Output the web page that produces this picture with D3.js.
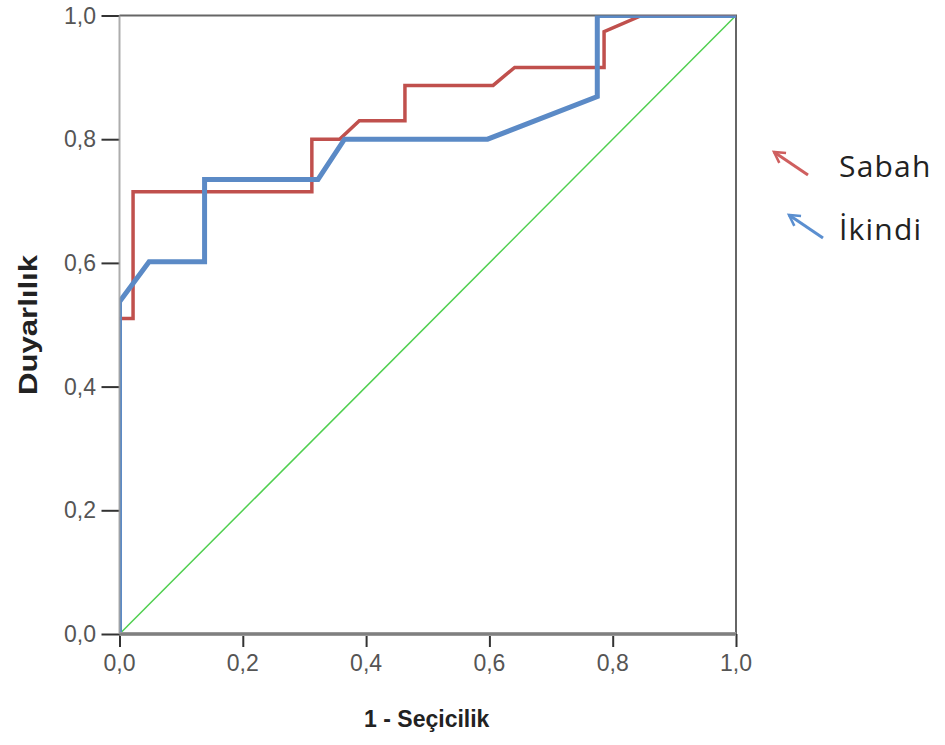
<!DOCTYPE html>
<html>
<head>
<meta charset="utf-8">
<script src="https://cdn.jsdelivr.net/npm/d3@7"></script>
<style>
	body { margin: 0; background: #fff; }
</style>
</head>
<body>
<div id="diagram"></div>
<script>
// ROC egrileri: 1 - Secicilik (x) / Duyarlilik (y)
var sabahX = [0, 0.022, 0.022, 0.312, 0.312, 0.357, 0.389, 0.463, 0.463, 0.606, 0.641, 0.786, 0.786, 0.847, 1];
var sabahY = [0.51, 0.51, 0.715, 0.715, 0.80, 0.80, 0.83, 0.83, 0.887, 0.887, 0.916, 0.916, 0.974, 1, 1];
var ikindiX = [0, 0, 0.048, 0.138, 0.138, 0.322, 0.365, 0.597, 0.775, 0.775, 1];
var ikindiY = [0, 0.537, 0.602, 0.602, 0.735, 0.735, 0.80, 0.80, 0.869, 1, 1];
var refX = [0, 1], refY = [0, 1];
var TICKS = [0, 0.2, 0.4, 0.6, 0.8, 1];
var LEGEND = ['Sabah', 'İkindi'];

var
W = 945, H = 745,
X0 = 119.5, X1 = 736,
Y0 = 634, Y1 = 15.5,
RED = '#c0504d', BLUE = '#5b8ac6',
TICK_FONT = 23;

var svg = d3
	.select('#diagram')
	.append('svg')
	.attr('width', W)
	.attr('height', H)
	;

var x = d3.scaleLinear().domain([0, 1]).range([X0, X1]);
var y = d3.scaleLinear().domain([0, 1]).range([Y0, Y1]);
var fmt = function(d) { return d3.format('.1f')(d).replace('.', ','); };

function pts(xs, ys) {
	return xs.map(function(v, i) { return [v, ys[i]]; });
}
var line = d3.line()
	.x(function(d) { return x(d[0]); })
	.y(function(d) { return y(d[1]); });

// plot area clip (lines on the frame get half cut)
svg.append('clipPath')
	.attr('id', 'plotClip')
	.append('rect')
	.attr('x', X0)
	.attr('y', Y1)
	.attr('width', X1 - X0)
	.attr('height', Y0 - Y1);

// frame top and right
svg.append('path')
	.attr('d', 'M' + X0 + ',' + Y1 + 'H' + X1 + 'V' + Y0)
	.attr('fill', 'none')
	.attr('stroke', '#666')
	.attr('stroke-width', 2);

var g = svg.append('g').attr('clip-path', 'url(#plotClip)');

g.append('path')
	.datum(pts(refX, refY))
	.attr('d', line)
	.attr('fill', 'none')
	.attr('stroke', '#4fcf4f')
	.attr('stroke-width', 1.5);

g.append('path')
	.datum(pts(sabahX, sabahY))
	.attr('d', line)
	.attr('fill', 'none')
	.attr('stroke', RED)
	.attr('stroke-width', 3.5);

g.append('path')
	.datum(pts(ikindiX, ikindiY))
	.attr('d', line)
	.attr('fill', 'none')
	.attr('stroke', BLUE)
	.attr('stroke-width', 5);

// axes: tick marks from d3, labels drawn as plain text
var xAxis = d3.axisBottom(x).tickValues(TICKS).tickFormat('').tickSizeInner(13).tickSizeOuter(0);
var yAxis = d3.axisLeft(y).tickValues(TICKS).tickFormat('').tickSizeInner(18).tickSizeOuter(0);

var xa = svg.append('g')
	.attr('transform', 'translate(0,' + Y0 + ')')
	.call(xAxis);
var ya = svg.append('g')
	.attr('transform', 'translate(' + X0 + ',0)')
	.call(yAxis);

[xa, ya].forEach(function(a) {
	a.select('.domain').remove();
	a.selectAll('.tick line').attr('stroke', '#333').attr('stroke-width', 2);
});

svg.append('g')
	.selectAll('text')
	.data(TICKS)
	.enter()
	.append('text')
	.attr('x', function(d) { return x(d); })
	.attr('y', 671)
	.attr('text-anchor', 'middle')
	.attr('font-family', '"Liberation Sans", Arial, sans-serif')
	.attr('font-size', TICK_FONT)
	.attr('fill', '#555')
	.text(fmt);

svg.append('g')
	.selectAll('text')
	.data(TICKS)
	.enter()
	.append('text')
	.attr('x', 96)
	.attr('y', function(d) { return y(d) + 8; })
	.attr('text-anchor', 'end')
	.attr('font-family', '"Liberation Sans", Arial, sans-serif')
	.attr('font-size', TICK_FONT)
	.attr('fill', '#555')
	.text(fmt);

// axis lines drawn on top
svg.append('line')
	.attr('x1', X0).attr('x2', X1).attr('y1', Y0).attr('y2', Y0)
	.attr('stroke', '#999').attr('stroke-width', 4);
svg.append('line')
	.attr('x1', X0).attr('x2', X1).attr('y1', Y0).attr('y2', Y0)
	.attr('stroke', '#666').attr('stroke-width', 1);
svg.append('line')
	.attr('x1', X0).attr('x2', X0).attr('y1', Y1).attr('y2', Y0)
	.attr('stroke', '#999').attr('stroke-width', 2)
	.attr('stroke-opacity', 0.8);

// axis titles
svg.append('text')
	.attr('x', (X0 + X1) / 2 - 1)
	.attr('y', 727)
	.attr('text-anchor', 'middle')
	.style('font-family', '"Liberation Sans", Arial, sans-serif')
	.style('font-weight', 'bold')
	.style('font-size', '23px')
	.attr('fill', '#222')
	.text('1 - Seçicilik');

svg.append('text')
	.attr('transform', 'translate(37,325) rotate(-90)')
	.attr('text-anchor', 'middle')
	.attr('textLength', 140)
	.attr('lengthAdjust', 'spacingAndGlyphs')
	.style('font-family', '"Liberation Sans", Arial, sans-serif')
	.style('font-weight', 'bold')
	.style('font-size', '25px')
	.attr('fill', '#222')
	.text('Duyarlılık');

// legend with arrows
var ARROW_COLORS = ['#cf5f5f', '#5b8fd0'];
svg.append('defs').selectAll('marker')
	.data(ARROW_COLORS)
	.enter()
	.append('marker')
	.attr('id', function(d, i) { return 'arr' + i; })
	.attr('viewBox', '0 0 10 10')
	.attr('refX', 8)
	.attr('refY', 5)
	.attr('markerWidth', 5)
	.attr('markerHeight', 5)
	.attr('orient', 'auto')
	.append('path')
	.attr('d', 'M1,1 L8,5 L1,9')
	.attr('fill', 'none')
	.attr('stroke', function(d) { return d; })
	.attr('stroke-width', 1.7);

var legend = svg.append('g').attr('class', 'legend');
var legend_item = legend.selectAll('g')
	.data(LEGEND)
	.enter()
	.append('g')
	.attr('transform', function(d, i) { return 'translate(0,' + (i * 63) + ')'; });

legend_item.append('line')
	.attr('x1', function(d, i) { return 808 + i * 15; })
	.attr('y1', 175)
	.attr('x2', function(d, i) { return 774 + i * 15; })
	.attr('y2', 152)
	.attr('stroke', function(d, i) { return ARROW_COLORS[i]; })
	.attr('stroke-width', 3)
	.attr('marker-end', function(d, i) { return 'url(#arr' + i + ')'; });

legend_item.append('text')
	.attr('x', 839)
	.attr('y', 177)
	.style('font-family', '"Open Sans", "Liberation Sans", sans-serif')
	.style('font-size', '30px')
	.style('letter-spacing', '1.2px')
	.attr('fill', '#222')
	.text(function(d) { return d; });
</script>
</body>
</html>
